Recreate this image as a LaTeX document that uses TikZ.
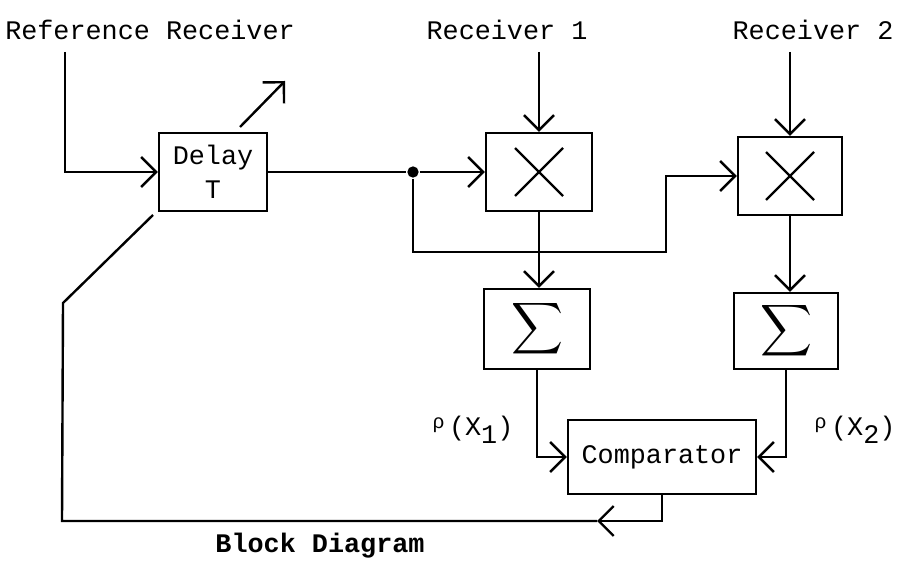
\documentclass[tikz,border=0pt]{standalone}
\usepackage{fontspec}
\setmainfont{Liberation Mono}
\usetikzlibrary{positioning,arrows.meta,calc}

\begin{document}
\begin{tikzpicture}[x=0.5pt,y=-0.5pt,line width=1.2pt,
  font=\fontsize{13.4}{16}\selectfont,
  >={Straight Barb[length=7.5pt,width=15pt]},
  blk/.style={draw,inner sep=0pt,align=center}]
  \useasboundingbox (0,0) rectangle (908,565);
  % texts
  \node (lref) at (150,30) {Reference Receiver};
  \node (lrx1) at (507,30) {Receiver 1};
  \node (lrx2) at (813,30) {Receiver 2};
  \node[font=\bfseries\fontsize{13.4}{16}\selectfont] (cap) at (320,546) {Block Diagram};
  \node (rho1) at (473,430) {{\fontsize{10}{10}\selectfont\raisebox{0.7ex}{ρ}}\,(X\raisebox{-0.6ex}{1})};
  \node (rho2) at (855,430) {{\fontsize{10}{10}\selectfont\raisebox{0.7ex}{ρ}}\,(X\raisebox{-0.6ex}{2})};
  % blocks
  \node[blk,minimum width=54pt,minimum height=39pt] (dly) at (213,172) {Delay\\[1pt]T};
  \node[blk,minimum width=53pt,minimum height=39pt] (m1) at (539,172) {};
  \node[blk,minimum width=52pt,minimum height=39pt] (m2) at (790,176) {};
  \node[blk,minimum width=53pt,minimum height=40pt] (s1) at (537,329) {\scalebox{1.8}{$\displaystyle\sum$}};
  \node[blk,minimum width=52pt,minimum height=38pt] (s2) at (786,331) {\scalebox{1.8}{$\displaystyle\sum$}};
  \node[blk,minimum width=94pt,minimum height=37pt] (cmp) at (662,457) {Comparator};
  \foreach \m in {m1,m2}{
    \draw ($(\m)+(-24,-24)$) -- ($(\m)+(24,24)$);
    \draw ($(\m)+(-24,24)$) -- ($(\m)+(24,-24)$);
  }
  \node[circle,fill,inner sep=2pt] (dot) at (413,172) {};
  % free ends
  \coordinate (rin) at (65,52);
  \coordinate (r1in) at (539,52);
  \coordinate (r2in) at (790,52);
  \coordinate (va) at (240,127);
  \coordinate (vb) at (285,81);
  \coordinate (b1) at (413,252);
  \coordinate (b2) at (666,252);
  \coordinate (fa) at (597,521);
  \coordinate (fb) at (62,521);
  \coordinate (fc) at (63,303);
  \coordinate (fd) at (153,215);
  % connectors
  \draw[->] (rin) |- (dly.west);
  \draw[->] (va) -- (vb);
  \draw (dly.east) -- (dot);
  \draw[->] (dot) -- (m1.west);
  \draw[->] (dot) -- (b1) -- (b2) |- (m2.west);
  \draw[->] (r1in) -- (m1.north);
  \draw[->] (r2in) -- (m2.north);
  \draw[->] (m1.south) -- (m1.south |- s1.north);
  \draw[->] (m2.south) -- (m2.south |- s2.north);
  \draw[->] (s1.south) |- (cmp.west);
  \draw[->] (s2.south) |- (cmp.east);
  \draw[->] (cmp.south) |- (fa);
  \draw (fa) -- (fb) -- (fc) -- (fd);
\end{tikzpicture}
\end{document}
